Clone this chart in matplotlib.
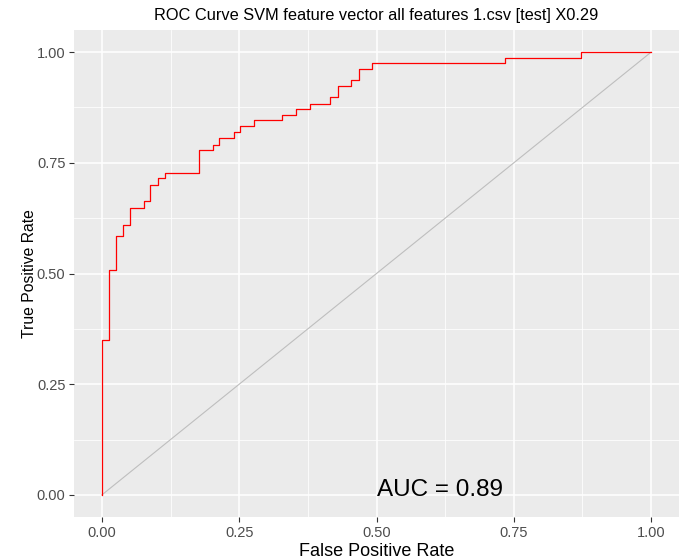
import matplotlib
matplotlib.use("Agg")
import matplotlib.pyplot as plt
from matplotlib.ticker import MultipleLocator

# ROC corner points (curve level after each jump)
fpr = [0.0, 0.0, 0.0134, 0.025, 0.039, 0.051, 0.076, 0.088, 0.102, 0.114,
       0.177, 0.203, 0.214, 0.240, 0.252, 0.277, 0.327, 0.353, 0.379, 0.416,
       0.430, 0.454, 0.468, 0.492, 0.734, 0.872, 1.0]
tpr = [0.0, 0.350, 0.508, 0.585, 0.610, 0.649, 0.663, 0.701, 0.716, 0.728,
       0.780, 0.791, 0.806, 0.819, 0.833, 0.846, 0.859, 0.871, 0.883, 0.898,
       0.924, 0.936, 0.962, 0.975, 0.987, 1.0, 1.0]
auc = 0.89
title = "ROC Curve SVM feature vector all features 1.csv [test] X0.29"

plt.rcParams['font.family'] = ['Liberation Sans', 'DejaVu Sans']

fig = plt.figure(figsize=(6.86, 5.6), dpi=100)
ax = fig.add_axes([0.1086, 0.0768, 0.8805, 0.8696])
ax.set_facecolor('#EBEBEB')

# ggplot-like grid
ax.xaxis.set_major_locator(MultipleLocator(0.25))
ax.yaxis.set_major_locator(MultipleLocator(0.25))
ax.xaxis.set_minor_locator(MultipleLocator(0.125))
ax.yaxis.set_minor_locator(MultipleLocator(0.125))
ax.grid(which='major', color='white', linewidth=1.1)
ax.grid(which='minor', color='white', linewidth=0.55)
ax.set_axisbelow(True)
for s in ax.spines.values():
    s.set_visible(False)

ax.plot([0, 1], [0, 1], color='#BEBEBE', linewidth=0.8)
ax.plot(fpr, tpr, color='red', linewidth=0.9, drawstyle='steps-post')

ax.set_xlim(-0.05, 1.05)
ax.set_ylim(-0.05, 1.05)
ax.xaxis.set_major_formatter(lambda v, p: f"{v:.2f}")
ax.yaxis.set_major_formatter(lambda v, p: f"{v:.2f}")
ax.tick_params(which='major', length=3.5, width=0.8, color='#333333',
               labelcolor='#4D4D4D', labelsize=10.5, pad=3)
ax.tick_params(which='minor', length=0)

ax.text(0.5, 0.011, f"AUC = {auc:.2f}", fontsize=17.5, ha='left', va='center', color='black')

ax.set_xlabel("False Positive Rate", fontsize=13, labelpad=2)
ax.set_ylabel("True Positive Rate", fontsize=11.3, labelpad=0)
ax.set_title(title, fontsize=11.8, pad=7)

fig.savefig("out.png", dpi=100)
